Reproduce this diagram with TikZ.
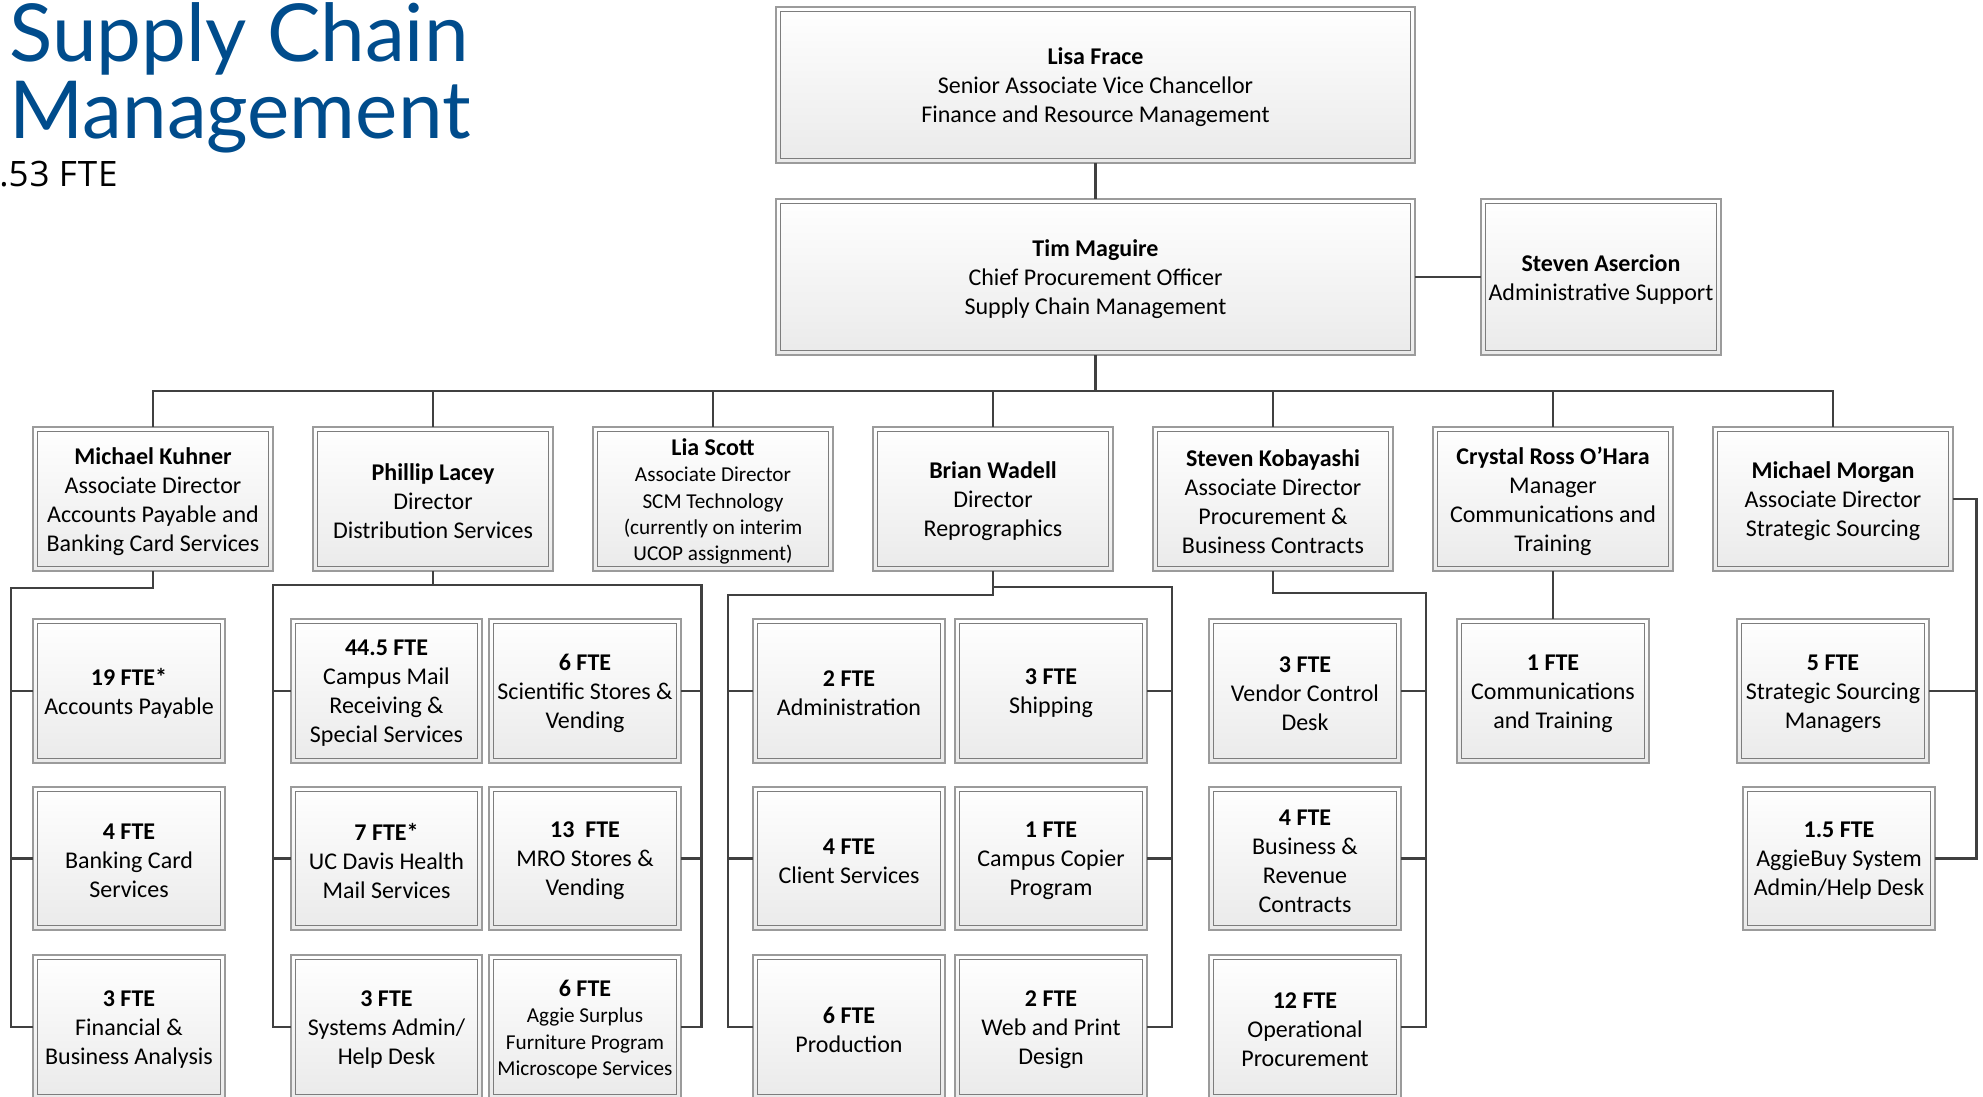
\documentclass[tikz,border=0pt]{standalone}
\usepackage{fontspec}
\setmainfont{Carlito}
\newfontfamily\titlefam{Lato}
\newfontfamily\ftefam{Open Sans}
\definecolor{scmblue}{RGB}{0,76,140}
\definecolor{outerc}{RGB}{155,155,155}
\definecolor{innerc}{RGB}{125,125,125}
\definecolor{shadebot}{RGB}{234,234,234}
\definecolor{linec}{RGB}{64,64,64}
\tikzset{
 box/.style={draw=outerc, line width=0.7pt, top color=white, bottom color=shadebot,
  inner sep=0pt, outer sep=0pt,
  path picture={\draw[innerc, line width=0.7pt]
   ([shift={(2.3pt,2.3pt)}]path picture bounding box.south west) rectangle
   ([shift={(-2.3pt,-2.3pt)}]path picture bounding box.north east);}},
 boxtext/.style={inner sep=0pt, align=center, font=\fontsize{12}{14.5}\selectfont},
 conn/.style={draw=linec, line width=1.1pt},
 smalltext/.style={font=\fontsize{10.6}{13.2}\selectfont},
 titletext/.style={anchor=base west, inner sep=0pt, text=scmblue, font=\titlefam\fontsize{40}{44}\selectfont}
}
\newcommand\mkbox[6][]{%
 \node[box,minimum width=#4*0.5pt,minimum height=#5*0.5pt] (#2) at (#3) {};
 \node[boxtext,#1] (#2t) at ([yshift=-1.25pt]#2.center) {#6};}
\begin{document}
\begin{tikzpicture}[x=0.5pt,y=-0.5pt]
\useasboundingbox (0,0) rectangle (1983,1097);
\clip (0,0) rectangle (1983,1097);
% title
\node[titletext] (t1) at (9,62) {Supply Chain};
\node[titletext] (t2) at (9,139) {Management};
\node[anchor=base west, inner sep=0pt, font=\ftefam\fontsize{17.5}{20}\selectfont] (t3) at (-1,186) {.5\kern0.5pt3 F\kern0.5pt T\kern0.5pt E};
% top
\mkbox{lisa}{1095.5,85}{639}{156}{\textbf{Lisa Frace}\\Senior Associate Vice Chancellor\\Finance and Resource Management}
\mkbox{tim}{1095.5,277}{639}{156}{\textbf{Tim Maguire}\\Chief Procurement Officer\\Supply Chain Management}
\mkbox{aser}{1601,277}{240}{156}{\textbf{Steven Asercion}\\Administrative Support}
% level 1
\mkbox{kuhner}{153,499}{240}{144}{\textbf{Michael Kuhner}\\Associate Director\\Accounts Payable and\\Banking Card Services}
\mkbox{lacey}{433,499}{240}{144}{\textbf{Phillip Lacey}\\Director\\Distribution Services}
\mkbox[smalltext]{scott}{713,499}{240}{144}{{\fontsize{12}{13.2}\selectfont\bfseries Lia Scott}\\Associate Director\\SCM Technology\\(currently on interim\\UCOP assignment)}
\mkbox{wadell}{993,499}{240}{144}{\textbf{Brian Wadell}\\Director\\Reprographics}
\mkbox{koba}{1273,499}{240}{144}{\textbf{Steven Kobayashi}\\Associate Director\\Procurement \&\\Business Contracts}
\mkbox{crystal}{1553,499}{240}{144}{\textbf{Crystal Ross O’Hara}\\Manager\\Communications and\\Training}
\mkbox{morgan}{1833,499}{240}{144}{\textbf{Michael Morgan}\\Associate Director\\Strategic Sourcing}
% Kuhner children
\mkbox{k1}{129,691}{192}{144}{\textbf{19 FTE*}\\Accounts Payable}
\mkbox{k2}{129,858.5}{192}{143}{\textbf{4 FTE}\\Banking Card\\Services}
\mkbox{k3}{129,1027}{192}{144}{\textbf{3 FTE}\\Financial \&\\Business Analysis}
% Lacey children
\mkbox{l1a}{386.5,691}{191}{144}{\textbf{44.5 FTE}\\Campus Mail\\Receiving \&\\Special Services}
\mkbox{l1b}{585,691}{192}{144}{\textbf{6 FTE}\\Scientific Stores \&\\Vending}
\mkbox{l2a}{386.5,858.5}{191}{143}{\textbf{7 FTE*}\\UC Davis Health\\Mail Services}
\mkbox{l2b}{585,858.5}{192}{143}{\textbf{13~\ FTE}\\MRO Stores \&\\Vending}
\mkbox{l3a}{386.5,1027}{191}{144}{\textbf{3 FTE}\\Systems Admin/\\Help Desk}
\mkbox[smalltext]{l3b}{585,1027}{192}{144}{{\fontsize{12}{13.2}\selectfont\bfseries 6 FTE}\\Aggie Surplus\\Furniture Program\\Microscope Services}
% Wadell children
\mkbox{w1a}{849,691}{192}{144}{\textbf{2 FTE}\\Administration}
\mkbox{w1b}{1051,691}{192}{144}{\textbf{3 FTE}\\Shipping}
\mkbox{w2a}{849,858.5}{192}{143}{\textbf{4 FTE}\\Client Services}
\mkbox{w2b}{1051,858.5}{192}{143}{\textbf{1 FTE}\\Campus Copier\\Program}
\mkbox{w3a}{849,1027}{192}{144}{\textbf{6 FTE}\\Production}
\mkbox{w3b}{1051,1027}{192}{144}{\textbf{2 FTE}\\Web and Print\\Design}
% Kobayashi children
\mkbox{s1}{1305,691}{192}{144}{\textbf{3 FTE}\\Vendor Control\\Desk}
\mkbox{s2}{1305,858.5}{192}{143}{\textbf{4 FTE}\\Business \&\\Revenue\\Contracts}
\mkbox{s3}{1305,1027}{192}{144}{\textbf{12 FTE}\\Operational\\Procurement}
% Crystal child
\mkbox{c1}{1553,691}{192}{144}{\textbf{1 FTE}\\Communications\\and Training}
% Morgan children
\mkbox{m1}{1833,691}{192}{144}{\textbf{5 FTE}\\Strategic Sourcing\\Managers}
\mkbox{m2}{1839,858.5}{192}{143}{\textbf{1.5 FTE}\\AggieBuy System\\Admin/Help Desk}
% connectors
\coordinate (bus) at (1095.5,391);
\draw[conn] (lisa) -- (tim);
\draw[conn] (tim.east) -- (aser.west);
\draw[conn] (tim.south) -- (bus);
\draw[conn] (kuhner.north) |- (morgan.north |- bus) -- (morgan.north);
\foreach \n in {lacey,scott,wadell,koba,crystal} \draw[conn] (\n.north) -- (\n.north |- bus);
% Kuhner bus
\coordinate (kL) at (11,588);
\draw[conn] (kuhner.south) |- (kL) |- (k3.west);
\draw[conn] (kL |- k1.west) -- (k1.west);
\draw[conn] (kL |- k2.west) -- (k2.west);
% Lacey bus
\coordinate (lL) at (273,585);
\coordinate (lR) at (701.5,585);
\draw[conn] (lacey.south) -- (lacey.south |- lL);
\draw[conn] (l3a.west) -| (lL) -- (lR) |- (l3b.east);
\draw[conn] (lL |- l1a.west) -- (l1a.west);
\draw[conn] (lL |- l2a.west) -- (l2a.west);
\draw[conn] (lR |- l1b.east) -- (l1b.east);
\draw[conn] (lR |- l2b.east) -- (l2b.east);
% Wadell bus
\coordinate (wL) at (728.3,595);
\coordinate (wR) at (1171.7,587);
\draw[conn] (wadell.south) -- (wadell.south |- wL) -- (wL) |- (w3a.west);
\draw[conn] (wadell.south |- wR) -- (wR) |- (w3b.east);
\draw[conn] (wL |- w1a.west) -- (w1a.west);
\draw[conn] (wL |- w2a.west) -- (w2a.west);
\draw[conn] (wR |- w1b.east) -- (w1b.east);
\draw[conn] (wR |- w2b.east) -- (w2b.east);
% Kobayashi bus
\coordinate (sR) at (1425.7,593);
\draw[conn] (koba.south) |- (sR) |- (s3.east);
\draw[conn] (sR |- s1.east) -- (s1.east);
\draw[conn] (sR |- s2.east) -- (s2.east);
% Crystal
\draw[conn] (crystal.south) -- (c1.north);
% Morgan bus
\coordinate (mR) at (1976.5,499);
\draw[conn] (morgan.east) -- (mR) |- (m2.east);
\draw[conn] (mR |- m1.east) -- (m1.east);
\end{tikzpicture}
\end{document}
